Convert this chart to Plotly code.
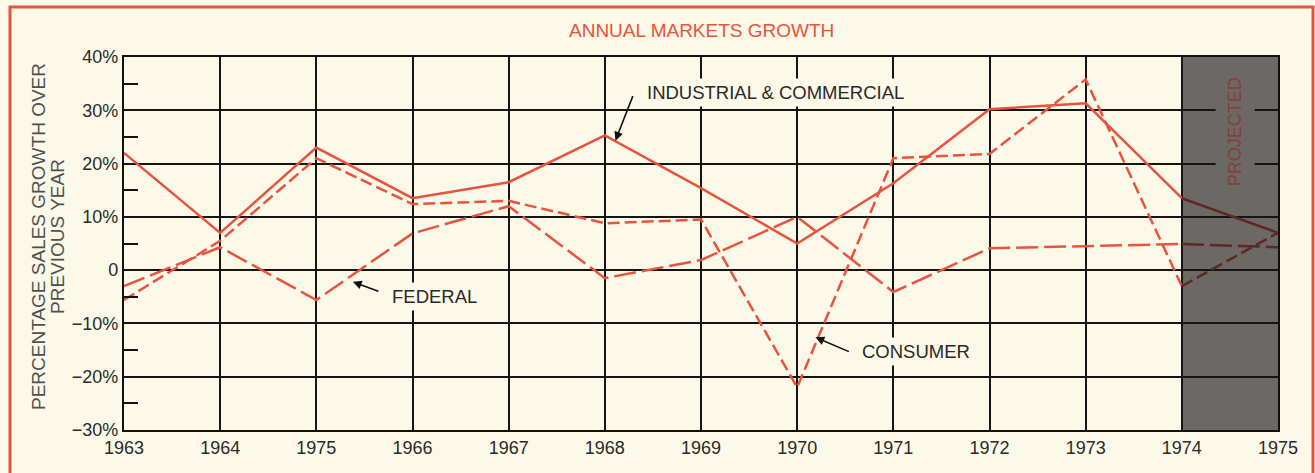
import plotly.graph_objects as go

# ---- data -------------------------------------------------------------
year_labels = ["1963", "1964", "1975", "1966", "1967", "1968", "1969",
               "1970", "1971", "1972", "1973", "1974", "1975"]
industrial = [22, 7, 23, 13.5, 16.5, 25.3, 15.4, 5, 16.3, 30.2, 31.3, 13.5, 7]
consumer = [-5.6, 5.5, 21, 12.4, 13, 8.8, 9.5, -22, 21, 21.8, 35.8, -3, 7]
federal = [-3, 4.3, -5.6, 6.9, 12, -1.5, 1.9, 10, -4.1, 4.1, 4.5, 4.9, 4.3]

y_ticks = [-30, -20, -10, 0, 10, 20, 30, 40]
y_tick_text = ["\u221230%", "\u221220%", "\u221210%", "0", "10%", "20%", "30%", "40%"]
y_minor = [-25, -15, -5, 5, 15, 25, 35]
projected_from = 11  # index of the first projected year

# ---- styling ----------------------------------------------------------
W, H = 1315, 473
L, R, T, B = 124, 37, 57, 43
RED = "#e8533e"
MAROON = "#5e2824"
SHADE = "#6b6866"
BG = "#fcf9e8"
INK = "#2a2a2a"
FONT = "Liberation Sans, Arial, Helvetica, sans-serif"

x = list(range(len(year_labels)))

series = [
    ("INDUSTRIAL & COMMERCIAL", industrial, "solid"),
    ("CONSUMER", consumer, "12px,5px"),
    ("FEDERAL", federal, "22px,6px"),
]

fig = go.Figure()
for name, vals, dash in series:
    k = projected_from
    fig.add_trace(go.Scatter(x=x[:k + 1], y=vals[:k + 1], mode="lines", name=name,
                             line=dict(color=RED, width=2.5, dash=dash),
                             showlegend=False))
    fig.add_trace(go.Scatter(x=x[k:], y=vals[k:], mode="lines", name=name + " (projected)",
                             line=dict(color=MAROON, width=2.5, dash=dash),
                             showlegend=False))

# projected band
fig.add_shape(type="rect", xref="x", yref="y", layer="below",
              x0=projected_from, x1=len(year_labels) - 1,
              y0=y_ticks[0], y1=y_ticks[-1],
              fillcolor=SHADE, line=dict(width=0))


def px_to_paper_x(px):
    return (px - L) / (W - L - R)


def px_to_paper_y(py):
    return (H - B - py) / (H - T - B)


# outer red frame
fig.add_shape(type="rect", xref="paper", yref="paper",
              x0=px_to_paper_x(10), x1=px_to_paper_x(1313),
              y0=px_to_paper_y(490), y1=px_to_paper_y(7),
              line=dict(color=RED, width=3), fillcolor="rgba(0,0,0,0)", layer="above")

annotations = []

# series labels with pointer arrows
labels = [
    ("INDUSTRIAL & COMMERCIAL", 5.40, 33.4, 5.11, 24.3, 18, -46),
    ("FEDERAL", 2.74, -4.9, 2.38, -2.2, 27, 10),
    ("CONSUMER", 7.63, -15.2, 7.19, -12.6, 35, 15),
]
for text, tx, ty, hx, hy, ax, ay in labels:
    annotations.append(dict(x=tx, y=ty, xref="x", yref="y", text=text,
                            showarrow=False, xanchor="left", yanchor="middle",
                            font=dict(family=FONT, size=18.5, color=INK),
                            bgcolor=BG, borderpad=3))
    annotations.append(dict(x=hx, y=hy, xref="x", yref="y", text="",
                            showarrow=True, ax=ax, ay=ay, arrowhead=2,
                            arrowsize=1.1, arrowwidth=1.6, arrowcolor="#111"))

annotations.append(dict(x=projected_from + 0.55, y=26, xref="x", yref="y",
                        text="PROJECTED", textangle=-90, showarrow=False,
                        font=dict(family=FONT, size=18, color="#86403a"),
                        bgcolor=SHADE, borderpad=9))

# y axis title, two lines
for txt, px in [("PERCENTAGE SALES GROWTH OVER", 38), ("PREVIOUS YEAR", 57)]:
    annotations.append(dict(x=px_to_paper_x(px), y=px_to_paper_y(237),
                            xref="paper", yref="paper", text=txt, textangle=-90,
                            showarrow=False, xanchor="center", yanchor="middle",
                            font=dict(family=FONT, size=19, color="#505050")))

# chart heading
annotations.append(dict(x=0.5, y=px_to_paper_y(31), xref="paper", yref="paper",
                        text="ANNUAL MARKETS GROWTH", showarrow=False,
                        xanchor="center", yanchor="middle",
                        font=dict(family=FONT, size=19, color=RED)))

fig.update_layout(
    width=W, height=H, autosize=False,
    margin=dict(l=L, r=R, t=T, b=B, pad=0),
    paper_bgcolor=BG, plot_bgcolor=BG,
    font=dict(family=FONT, size=18, color=INK),
    annotations=annotations,
    xaxis=dict(range=[0, len(year_labels) - 1], tickmode="array", tickvals=x,
               ticktext=year_labels, showgrid=True, gridcolor="#151515", gridwidth=1.6,
               showline=True, linecolor="#111", linewidth=2.2, mirror=True,
               zeroline=False, ticks="", tickfont=dict(size=18, color=INK)),
    yaxis=dict(range=[y_ticks[0], y_ticks[-1]], tickmode="array", tickvals=y_ticks,
               ticktext=y_tick_text, showgrid=True, gridcolor="#151515", gridwidth=1.6,
               showline=True, linecolor="#111", linewidth=2.2, mirror=True,
               zeroline=False, ticks="", tickfont=dict(size=18, color=INK),
               minor=dict(tickmode="array", tickvals=y_minor, ticks="inside",
                          ticklen=14, tickwidth=1.6, tickcolor="#111", showgrid=False)),
)

fig.write_html("out.html")
